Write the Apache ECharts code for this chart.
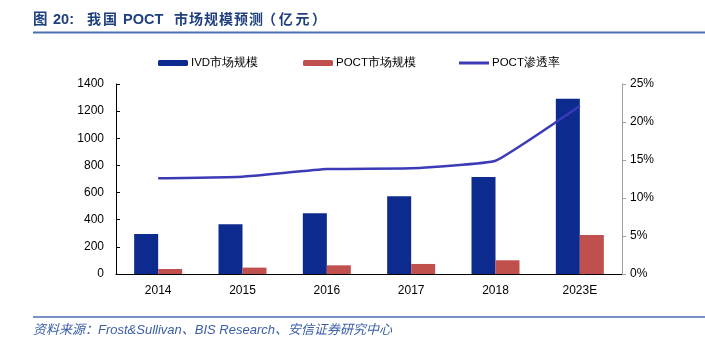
<!DOCTYPE html>
<html><head><meta charset="utf-8">
<script src="https://cdn.jsdelivr.net/npm/echarts@6/dist/echarts.min.js"></script>
<style>html,body{margin:0;padding:0;background:#fff}#c{width:705px;height:344px}</style>
</head><body><div id="c"></div>
<script>
const categories = ['2014','2015','2016','2017','2018','2023E'];
const ivdValues = [295, 366, 447, 572, 715, 1292];
const poctValues = [37, 47, 64, 74, 101, 287];
const poctRate = [12.6, 12.8, 13.8, 13.9, 14.9, 22.1];
const leftTicks = [0, 200, 400, 600, 800, 1000, 1200, 1400];
const rightTicks = [0, 5, 10, 15, 20, 25];

const font = 'Liberation Sans, Arial, sans-serif';
const titleFont = 'Liberation Sans, "Noto Sans CJK SC", sans-serif';

// title pieces: [text, x, per-character pitch (0 = natural)]
const titlePieces = [['图',33,0],['20:',53,0],['我国',87,16],['POCT',123,0],['市场规模预测',174,15],['（亿元）',262,16.7]];
const titleGraphics = [];
titlePieces.forEach(([t, x, pitch]) => {
  if (!pitch) {
    titleGraphics.push({type:'text', left:x, top:13, style:{text:t, font:'bold 14.5px ' + titleFont, fill:'#1F3F7F'}});
  } else {
    Array.from(t).forEach((ch, i) => {
      titleGraphics.push({type:'text', left:x + i*pitch, top:13, style:{text:ch, font:'bold 14px ' + titleFont, fill:'#1F3F7F'}});
    });
  }
});

const chart = echarts.init(document.getElementById('c'), null, {renderer:'canvas'});
chart.setOption({
  animation: false,
  backgroundColor: '#fff',
  title: [{
    text: '资料来源：Frost&Sullivan、BIS Research、安信证券研究中心',
    left: 28, top: 319,
    textStyle: {fontFamily: titleFont, fontSize: 13, fontWeight: 'normal', fontStyle: 'italic', color: '#3A5DA8'}
  }],
  graphic: titleGraphics.concat([
    {type:'line', shape:{x1:33,y1:32.5,x2:705,y2:32.5}, style:{stroke:'#4A6FB5', lineWidth:2}},
    {type:'line', shape:{x1:33,y1:317,x2:705,y2:317}, style:{stroke:'#4A6FB5', lineWidth:1.5}}
  ]),
  legend: [
    {data:['IVD市场规模'], left:153, top:52, itemWidth:30, itemHeight:6,
     textStyle:{fontFamily:font, fontSize:11.5, color:'#000', padding:[0,0,0,-2]}},
    {data:['POCT市场规模'], left:298, top:52, itemWidth:30, itemHeight:6,
     textStyle:{fontFamily:font, fontSize:11.5, color:'#000', padding:[0,0,0,-2]}},
    {data:[{name:'POCT渗透率', icon:'rect'}], left:454, top:52, itemWidth:30, itemHeight:3,
     textStyle:{fontFamily:font, fontSize:11.5, color:'#000', padding:[0,0,0,-2]}}
  ],
  grid: {left:116, right:83, top:84, bottom:70, containLabel:false},
  xAxis: {
    type:'category', data: categories,
    axisLine:{lineStyle:{color:'#000', width:1}},
    axisTick:{inside:true, length:5, lineStyle:{color:'#000'}},
    axisLabel:{fontFamily:font, fontSize:12, color:'#000', margin:11}
  },
  yAxis: [{
    type:'value', min:0, max:1400, interval:200,
    axisLine:{show:true, lineStyle:{color:'#000'}},
    axisTick:{show:true, inside:true, length:4, lineStyle:{color:'#000'}},
    splitLine:{show:false},
    axisLabel:{fontFamily:font, fontSize:12, color:'#000', margin:12,
      formatter: v => leftTicks.includes(v) ? String(v) : ''}
  },{
    type:'value', min:0, max:25, interval:5, position:'right',
    axisLine:{show:true, lineStyle:{color:'#A0A0A0'}},
    axisTick:{show:true, inside:false, length:4, lineStyle:{color:'#A0A0A0'}},
    splitLine:{show:false},
    axisLabel:{fontFamily:font, fontSize:12, color:'#000', margin:8,
      formatter: v => rightTicks.includes(v) ? v + '%' : ''}
  }],
  series: [{
    name:'IVD市场规模', type:'bar', data: ivdValues, barWidth:24, barGap:'0%',
    itemStyle:{color:'#0D2A8E'}
  },{
    name:'POCT市场规模', type:'bar', data: poctValues, barWidth:24,
    itemStyle:{color:'#C0504D'}
  },{
    name:'POCT渗透率', type:'line', yAxisIndex:1, data: poctRate,
    symbol:'none', smooth:0.1, lineStyle:{color:'#3B3BB8', width:2.5},
    itemStyle:{color:'#3B3BB8'}
  }]
});
</script></body></html>
